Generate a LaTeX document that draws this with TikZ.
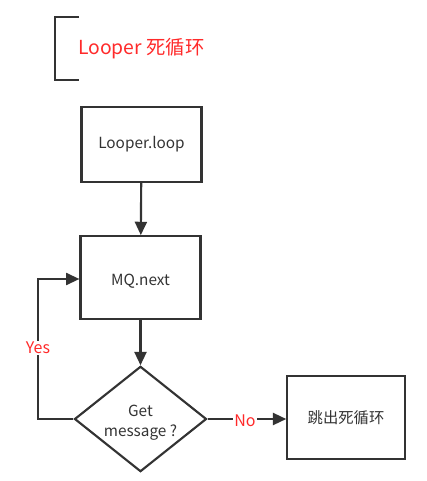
\documentclass[tikz,border=0pt]{standalone}
\usepackage{fontspec}
\setmainfont{Noto Sans CJK SC}
\usetikzlibrary{shapes.geometric,arrows.meta}
\definecolor{ln}{HTML}{333333}
\definecolor{rd}{HTML}{FF2A2A}
\newcommand{\lowered}[2]{\raisebox{-#1}[\height][\depth]{#2}}
\begin{document}
\begin{tikzpicture}[x=0.75pt,y=-0.75pt,
  box/.style={draw=ln,line width=1.6pt,minimum width=90pt,minimum height=57pt,inner sep=0pt,font=\fontsize{11.5pt}{13pt}\selectfont,text=ln},
  dia/.style={draw=ln,line width=1.6pt,diamond,aspect=1.25,minimum width=99pt,minimum height=79pt,inner sep=0pt,font=\fontsize{11.5pt}{14pt}\selectfont,text=ln},
  conn/.style={draw=ln,line width=1.6pt,-{Triangle[length=10pt,width=9pt]}},
  lbl/.style={text=rd,font=\fontsize{12pt}{13pt}\selectfont,fill=white,inner sep=1pt}]
\useasboundingbox (0,0) rectangle (426,481);
\draw[ln,line width=1.6pt] (79,17) -- (55,17) -- (55,80) -- (79,80);
\node[text=rd,font=\fontsize{14.5pt}{17pt}\selectfont,anchor=west,inner sep=0pt] (title) at (78,49) {Looper 死循环};
\node[box,minimum width=90pt,minimum height=56pt] (loop) at (141.5,144.5) {Looper.loop};
\node[box,minimum width=90pt,minimum height=62pt] (mq) at (140.5,277.5) {\lowered{3pt}{MQ.next}};
\node[dia] (get) at (140.5,419) {\lowered{2.5pt}{\begin{tabular}{@{}c@{}}Get\\[1pt]message ?\end{tabular}}};
\node[box,minimum width=88pt,minimum height=62pt] (exit) at (346,417.5) {跳出死循环};
\coordinate (c1) at (38,419);
\coordinate (c2) at (38,279);
\draw[conn] (loop) -- (mq);
\draw[conn] (mq) -- (get);
\draw[conn] (get.west) -- (c1) -- (c2) -- (mq.west |- c2);
\node[lbl] (yes) at (38,348) {Yes};
\draw[conn] (get.east) -- (exit.west |- get.east);
\node[lbl] (no) at (245,421) {No};
\end{tikzpicture}
\end{document}
